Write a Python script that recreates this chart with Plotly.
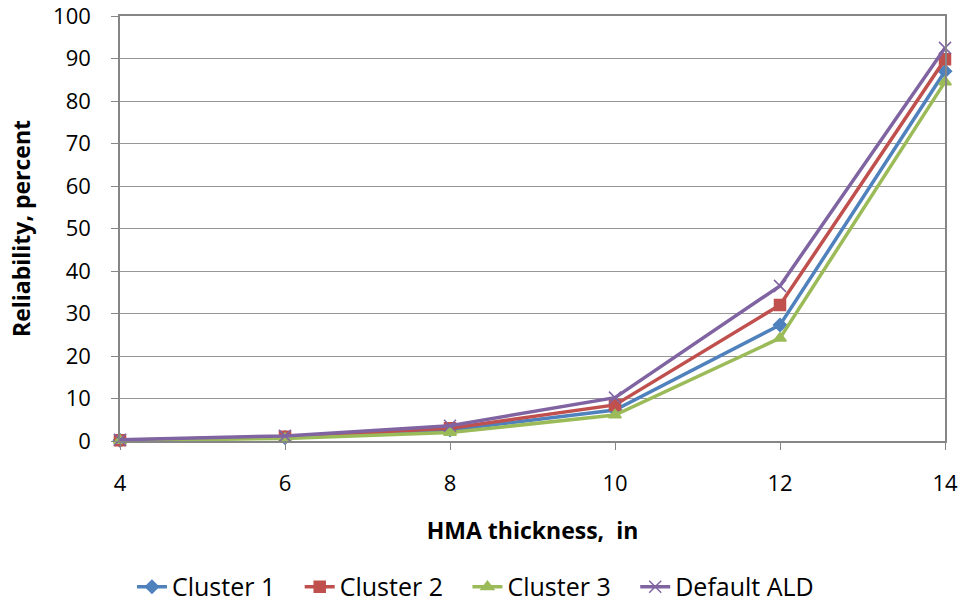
import plotly.graph_objects as go

thickness = [4, 6, 8, 10, 12, 14]
cluster1 = [0.15, 0.8, 2.6, 7.3, 27.3, 87.0]
cluster2 = [0.2, 1.0, 3.0, 8.5, 32.0, 89.8]
cluster3 = [0.1, 0.6, 2.0, 6.1, 24.2, 84.5]
default_ald = [0.3, 1.2, 3.6, 10.2, 36.5, 92.5]

names = ["Cluster 1", "Cluster 2", "Cluster 3", "Default ALD"]
series = [cluster1, cluster2, cluster3, default_ald]
colors = ["#4F81BD", "#C0504D", "#9BBB59", "#8064A2"]
symbols = ["diamond", "square", "triangle-up", "x-thin"]
sizes = [10, 11, 11, 12]

FONT = "Open Sans"
PAD = "\u00a0\u00a0\u00a0"
fig = go.Figure()
for i, (n, s, c, sym, sz) in enumerate(zip(names, series, colors, symbols, sizes)):
    fig.add_trace(go.Scatter(
        x=thickness, y=s, name=n + (PAD if i < len(names) - 1 else ""),
        mode="lines+markers",
        line=dict(color=c, width=3.5),
        marker=dict(symbol=sym, size=sz, color=c, line=dict(color=c, width=1.5)),
        cliponaxis=False,
    ))

fig.update_layout(
    width=961, height=601,
    margin=dict(l=120, r=16, t=16, b=160, autoexpand=False),
    paper_bgcolor="white", plot_bgcolor="white",
    font=dict(family=FONT, color="#000000"),
    showlegend=True,
    legend=dict(orientation="h", x=0.0145, y=-0.3435, xanchor="left", yanchor="middle",
                font=dict(size=25, family=FONT), tracegroupgap=0),
)
fig.update_xaxes(
    range=[4, 14], tickvals=thickness, ticks="outside", ticklen=7, tickcolor="#868686",
    showline=True, linecolor="#868686", linewidth=1.5, mirror=True,
    showgrid=False, zeroline=False, automargin=False, ticklabeloverflow="allow",
    tickfont=dict(size=22, family=FONT), ticklabelstandoff=15,
    title=dict(text="<b>HMA thickness,  in</b>", font=dict(size=23, family=FONT), standoff=27),
)
fig.update_yaxes(
    range=[0, 100], dtick=10, ticks="outside", ticklen=7, tickcolor="#868686",
    showline=True, linecolor="#868686", linewidth=1.5, mirror=True,
    showgrid=True, gridcolor="#969696", gridwidth=1, zeroline=False, automargin=False,
    ticklabeloverflow="allow",
    tickfont=dict(size=22, family=FONT), ticklabelstandoff=16,
    title=dict(text="<b>Reliability, percent</b>", font=dict(size=23, family=FONT), standoff=16),
)

fig.write_html("out.html", config={"displayModeBar": False},
               post_script="document.body.style.margin='0px';")
